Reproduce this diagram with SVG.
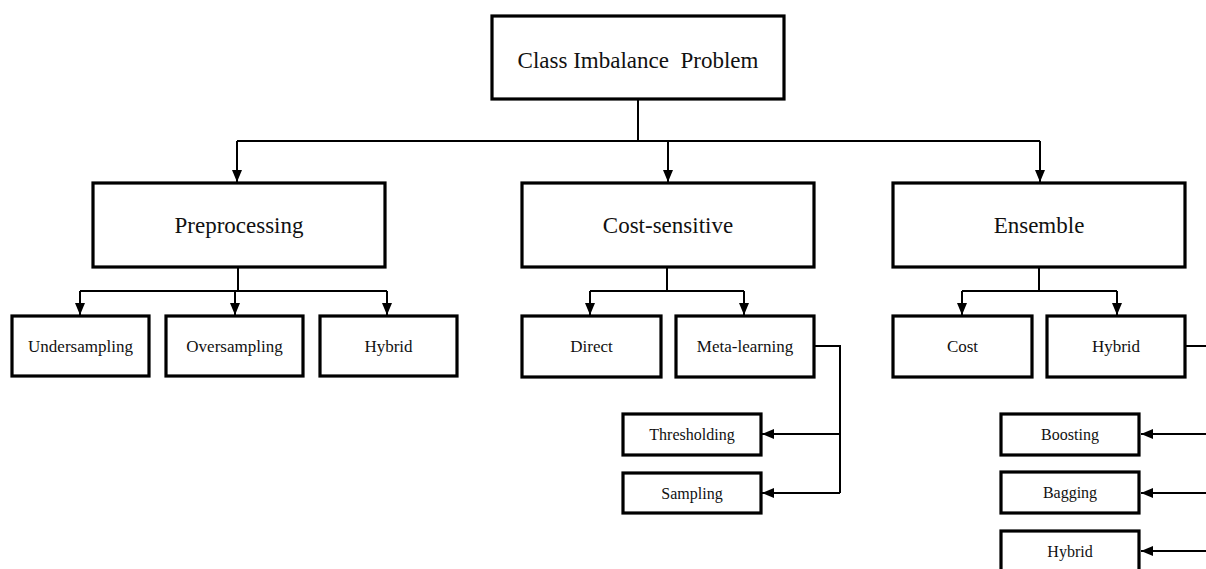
<svg xmlns="http://www.w3.org/2000/svg" width="1206" height="569" viewBox="0 0 1206 569">
<style>
.box{fill:#fff;stroke:#000;stroke-width:3.2}
.t{font-family:"Liberation Serif","Times New Roman",serif;fill:#111;text-anchor:middle}
.big{font-size:23px}
.sm{font-size:17px}
.xs{font-size:16px}
.c{fill:none;stroke:#000;stroke-width:2}
</style>
<defs>
<marker id="ah" viewBox="0 0 12 10" refX="12" refY="5" markerWidth="12" markerHeight="10" orient="auto" markerUnits="userSpaceOnUse">
<path d="M0,0 L12,5 L0,10 z" fill="#000"/>
</marker>
</defs>
<rect width="1206" height="569" fill="#fff"/>
<g id="connectors">
<path class="c" d="M638,99 V141 M237,141 H1040"/>
<path class="c" d="M237,141 V182" marker-end="url(#ah)"/>
<path class="c" d="M668,141 V182" marker-end="url(#ah)"/>
<path class="c" d="M1040,141 V182" marker-end="url(#ah)"/>
<path class="c" d="M238,267 V291 M80,291 H387"/>
<path class="c" d="M80,291 V315" marker-end="url(#ah)"/>
<path class="c" d="M235,291 V315" marker-end="url(#ah)"/>
<path class="c" d="M387,291 V315" marker-end="url(#ah)"/>
<path class="c" d="M667,267 V291 M590,291 H744"/>
<path class="c" d="M590,291 V315" marker-end="url(#ah)"/>
<path class="c" d="M744,291 V315" marker-end="url(#ah)"/>
<path class="c" d="M1039,267 V291 M962,291 H1117"/>
<path class="c" d="M962,291 V315" marker-end="url(#ah)"/>
<path class="c" d="M1117,291 V315" marker-end="url(#ah)"/>
<path class="c" d="M814,346 H840 V493"/>
<path class="c" d="M840,434 H762" marker-end="url(#ah)"/>
<path class="c" d="M840,493 H762" marker-end="url(#ah)"/>
<path class="c" d="M1185,346 H1210"/>
<path class="c" d="M1210,434 H1141" marker-end="url(#ah)"/>
<path class="c" d="M1210,493 H1141" marker-end="url(#ah)"/>
<path class="c" d="M1210,551 H1141" marker-end="url(#ah)"/>
</g>
<g id="root"><rect class="box" x="492" y="16" width="292" height="83"/><text class="t big" x="638" y="68" xml:space="preserve" style="white-space:pre">Class Imbalance  Problem</text></g>
<g id="preprocessing"><rect class="box" x="93" y="183" width="292" height="84"/><text class="t big" x="239" y="233">Preprocessing</text></g>
<g id="costsensitive"><rect class="box" x="522" y="183" width="292" height="84"/><text class="t big" x="668" y="233">Cost-sensitive</text></g>
<g id="ensemble"><rect class="box" x="893" y="183" width="292" height="84"/><text class="t big" x="1039" y="233">Ensemble</text></g>
<g id="undersampling"><rect class="box" x="12" y="316" width="137" height="60"/><text class="t sm" x="80.5" y="352">Undersampling</text></g>
<g id="oversampling"><rect class="box" x="166" y="316" width="137" height="60"/><text class="t sm" x="234.5" y="352">Oversampling</text></g>
<g id="pre-hybrid"><rect class="box" x="320" y="316" width="137" height="60"/><text class="t sm" x="388.5" y="352">Hybrid</text></g>
<g id="direct"><rect class="box" x="522" y="316" width="139" height="61"/><text class="t sm" x="591.5" y="352">Direct</text></g>
<g id="metalearning"><rect class="box" x="676" y="316" width="138" height="61"/><text class="t sm" x="745" y="352">Meta-learning</text></g>
<g id="cost"><rect class="box" x="893" y="316" width="139" height="61"/><text class="t sm" x="962.5" y="352">Cost</text></g>
<g id="ens-hybrid"><rect class="box" x="1047" y="316" width="138" height="61"/><text class="t sm" x="1116" y="352">Hybrid</text></g>
<g id="thresholding"><rect class="box" x="623" y="414" width="138" height="41"/><text class="t xs" x="692" y="440">Thresholding</text></g>
<g id="sampling"><rect class="box" x="623" y="473" width="138" height="40"/><text class="t xs" x="692" y="499">Sampling</text></g>
<g id="boosting"><rect class="box" x="1001" y="414" width="138" height="41"/><text class="t xs" x="1070" y="440">Boosting</text></g>
<g id="bagging"><rect class="box" x="1001" y="472" width="138" height="41"/><text class="t xs" x="1070" y="498">Bagging</text></g>
<g id="ens-hybrid2"><rect class="box" x="1001" y="531" width="138" height="60"/><text class="t xs" x="1070" y="557">Hybrid</text></g>
</svg>
